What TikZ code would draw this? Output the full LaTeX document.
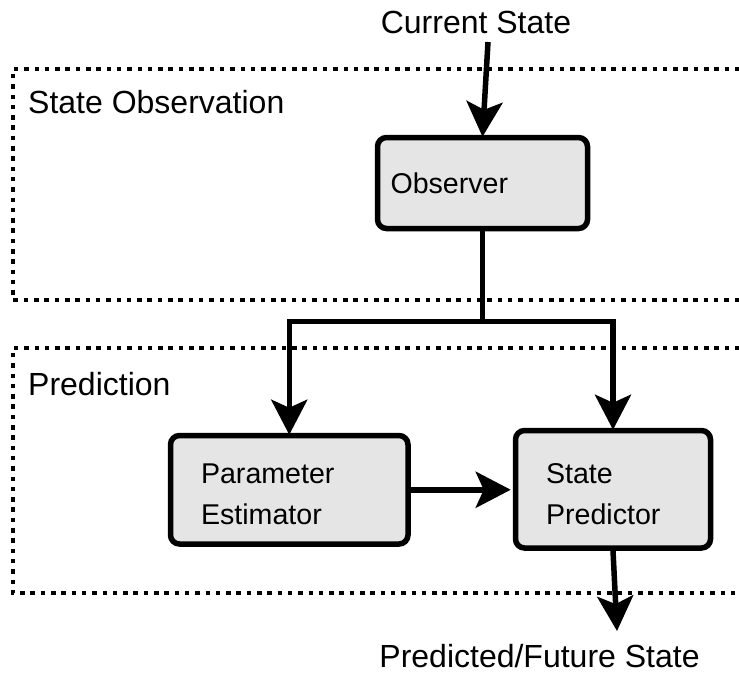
\documentclass[tikz,border=0pt]{standalone}
\usepackage{fontspec}
\setmainfont{Liberation Sans}
\usetikzlibrary{arrows.meta}
\definecolor{boxfill}{RGB}{229,229,229}
\newcommand{\toppad}{\rule{0pt}{29pt}}
\tikzset{
  frame/.style={line width=4.5pt, dash pattern=on 4.5pt off 5.8pt},
  block/.style={draw, line width=5.5pt, fill=boxfill, rounded corners=9pt,
    align=left, inner ysep=0pt, font=\fontsize{28.6}{41}\selectfont},
  title/.style={inner sep=0pt, font=\fontsize{32}{38}\selectfont},
  flow/.style={line width=5.5pt, -{Stealth[length=35pt, width=36pt, inset=8pt]}},
  plain/.style={line width=5.5pt}
}
\begin{document}
\begin{tikzpicture}[x=1pt, y=-1pt]
  \useasboundingbox (0,0) rectangle (739,673);

  % group frames (open on the right)
  \draw[frame] (760,69) -| (13,300) -- (760,300);
  \draw[frame] (760,348) -| (13,593) -- (760,593);

  % headings
  \node[title, anchor=base] (cur) at (476,33) {Current State};
  \node[title, anchor=base west] (obsgroup) at (28,113) {State Observation};
  \node[title, anchor=base west] (predgroup) at (28,395) {Prediction};
  \node[title, anchor=base] (fut) at (539.5,667) {Predicted/Future State};

  % blocks
  \node[block, minimum width=210pt, minimum height=91pt, inner xsep=13pt,
        text width=184pt] (obs) at (482.5,183) {Observer};
  \node[block, minimum width=237.5pt, minimum height=108.5pt, inner xsep=30.5pt,
        text width=176.5pt] (pe) at (289.25,489.75) {\toppad Parameter\\Estimator};
  \node[block, minimum width=195pt, minimum height=117.5pt, inner xsep=30.5pt,
        text width=134pt] (sp) at (613,489.25) {\toppad State\\Predictor};

  % connectors
  \coordinate (in) at (488,42);
  \coordinate (split) at (482.5,321.5);
  \coordinate (out) at (617,631);
  \draw[flow] (in) -- ([yshift=-2pt]obs.north);
  \draw[plain] (obs.south) -- (split);
  \draw[flow] (split) -| ([yshift=-2pt]pe.north);
  \draw[flow] (split) -| ([yshift=-2pt]sp.north);
  \draw[flow] (pe.east) -- ([xshift=-2pt]pe.east -| sp.west);
  \draw[flow] (sp.south) -- (out);
\end{tikzpicture}
\end{document}
